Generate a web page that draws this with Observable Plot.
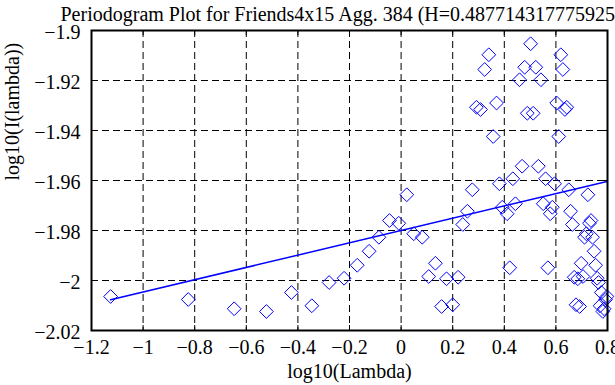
<!DOCTYPE html>
<html>
<head>
<meta charset="utf-8">
<script src="https://cdn.jsdelivr.net/npm/d3@7"></script>
<script src="https://cdn.jsdelivr.net/npm/@observablehq/plot@0.6"></script>
<style>
html, body { margin: 0; padding: 0; background: #fff; overflow: hidden; }
#chart { width: 615px; height: 385px; overflow: hidden; }
</style>
</head>
<body>
<div id="chart"></div>
<script>
const titleText = "Periodogram Plot for Friends4x15 Agg. 384 (H=0.487714317775925)";
const xLabel = "log10(Lambda)";
const yLabel = "log10(I(lambda))";

const xTicks = [-1.2, -1, -0.8, -0.6, -0.4, -0.2, 0, 0.2, 0.4, 0.6, 0.8];
const yTicks = [-2.02, -2, -1.98, -1.96, -1.94, -1.92, -1.9];

const logLambda = [
  -1.126, -0.825, -0.647, -0.522, -0.425, -0.346, -0.279, -0.221, -0.170, -0.124,
  -0.086, -0.045, -0.009, 0.022, 0.049, 0.082, 0.107, 0.133, 0.157, 0.176,
  0.200, 0.221, 0.239, 0.257, 0.276, 0.292, 0.308, 0.324, 0.340, 0.357,
  0.370, 0.381, 0.392, 0.411, 0.421, 0.433, 0.443, 0.459, 0.469, 0.479,
  0.489, 0.502, 0.512, 0.522, 0.532, 0.542, 0.551, 0.560, 0.569, 0.578,
  0.586, 0.595, 0.603, 0.611, 0.619, 0.627, 0.635, 0.642, 0.650, 0.657,
  0.664, 0.671, 0.678, 0.685, 0.692, 0.698, 0.705, 0.711, 0.718, 0.724,
  0.730, 0.736, 0.742, 0.748, 0.754, 0.760, 0.765, 0.771, 0.776, 0.782,
  0.787, 0.793, 0.798
];
const logI = [
  -2.0064, -2.0076, -2.0113, -2.0124, -2.0048, -2.0101, -2.0008, -1.9991, -1.9939, -1.9883,
  -1.9827, -1.9760, -1.9771, -1.9657, -1.9813, -1.9827, -1.9984, -1.9931, -2.0104, -1.9993,
  -2.0097, -1.9987, -1.9776, -1.9723, -1.9637, -1.9307, -1.9316, -1.9156, -1.9097, -1.9424,
  -1.9290, -1.9613, -1.9707, -1.9733, -1.9949, -1.9593, -1.9693, -1.9197, -1.9543, -1.9147,
  -1.9331, -1.9053, -1.9331, -1.9147, -1.9543, -1.9197, -1.9693, -1.9593, -1.9949, -1.9733,
  -1.9707, -1.9613, -1.9290, -1.9424, -1.9097, -1.9156, -1.9316, -1.9307, -1.9637, -1.9723,
  -1.9776, -1.9987, -2.0097, -1.9993, -2.0104, -1.9931, -1.9984, -1.9827, -1.9813, -1.9657,
  -1.9771, -1.9760, -1.9827, -1.9883, -1.9939, -1.9991, -2.0008, -2.0101, -2.0048, -2.0124,
  -2.0113, -2.0076, -2.0064
];

const fitX = [-1.126, 0.798];
const fitY = [-2.0077, -1.9604];

const points = logLambda.map((x, i) => ({x, y: logI[i]}));
const fit = fitX.map((x, i) => ({x, y: fitY[i]}));
const fmt = d3.format("");
const blue = "#0000ff";
const dash = "7,4";
const serif = "'Liberation Serif', 'Times New Roman', Times, 'Nimbus Roman', 'DejaVu Serif', serif";

const chart = Plot.plot({
  width: 615,
  height: 385,
  marginLeft: 91,
  marginRight: 8,
  marginTop: 30,
  marginBottom: 55,
  style: {fontFamily: serif, fontSize: "20px", background: "#fff", color: "#000"},
  x: {domain: [-1.2, 0.8]},
  y: {domain: [-2.02, -1.9]},
  marks: [
    Plot.gridX(xTicks, {stroke: "#000", strokeOpacity: 1, strokeWidth: 1, strokeDasharray: dash}),
    Plot.gridY(yTicks, {stroke: "#000", strokeOpacity: 1, strokeWidth: 1, strokeDasharray: dash}),
    Plot.tickX(xTicks, {x: d => d, insetTop: 295, stroke: "#000"}),
    Plot.tickX(xTicks, {x: d => d, insetBottom: 295, stroke: "#000"}),
    Plot.tickY(yTicks, {y: d => d, insetRight: 510, stroke: "#000"}),
    Plot.tickY(yTicks, {y: d => d, insetLeft: 510, stroke: "#000"}),
    Plot.dot(points, {x: "x", y: "y", symbol: "diamond2", r: 6.2, stroke: blue, fill: "none", strokeWidth: 1}),
    Plot.line(fit, {x: "x", y: "y", stroke: blue, strokeWidth: 1.5}),
    Plot.frame({stroke: "#000", strokeWidth: 2}),
    Plot.axisX(xTicks, {anchor: "bottom", tickSize: 0, tickPadding: 9, tickFormat: fmt, label: null, fontSize: 20, fontFamily: serif}),
    Plot.axisY(yTicks, {anchor: "left", tickSize: 0, tickPadding: 11, tickFormat: fmt, label: null, fontSize: 20, fontFamily: serif, dy: 2}),
    Plot.text([xLabel], {text: d => d, frameAnchor: "bottom", dy: 47, fontSize: 20, fontFamily: serif}),
    Plot.text([yLabel], {text: d => d, frameAnchor: "left", dx: -79, rotate: -90, fontSize: 20, fontFamily: serif}),
    Plot.text([titleText], {text: d => d, frameAnchor: "top-left", dx: -31, dy: -24, textAnchor: "start", fontSize: 20, fontFamily: serif})
  ]
});
document.getElementById("chart").appendChild(chart);
</script>
</body>
</html>
